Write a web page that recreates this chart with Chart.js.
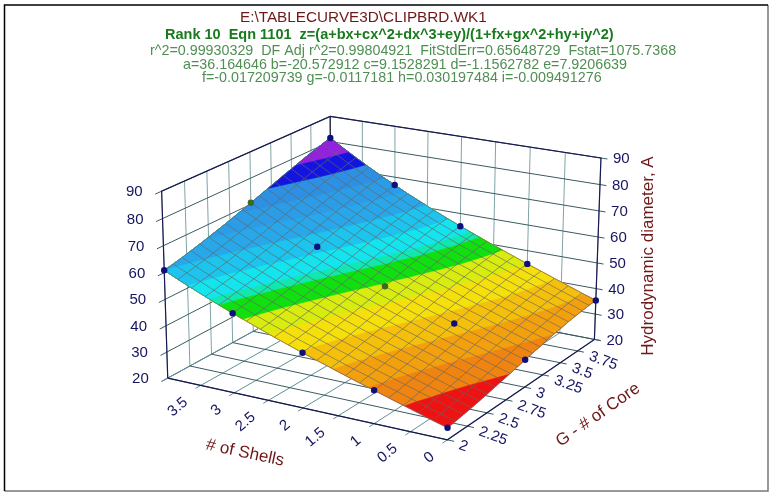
<!DOCTYPE html>
<html><head><meta charset="utf-8">
<style>html,body{margin:0;padding:0;background:#fff}canvas{display:block}</style>
<script src="https://cdn.jsdelivr.net/npm/chart.js@4"></script>
</head><body><canvas id="c" width="776" height="496"></canvas>
<script>
// ---- data ----
const shellValues=[0,0.2,0.4,0.6,0.8,1,1.2,1.4,1.6,1.8,2,2.2,2.4,2.6,2.8,3,3.2,3.4,3.6,3.8,4];
const coreValues=[2,2.1,2.2,2.3,2.4,2.5,2.6,2.7,2.8,2.9,3,3.1,3.2,3.3,3.4,3.5,3.6,3.7,3.8,3.9,4];
const surfaceZ=[
[24.4,25.9,27.5,29.1,30.7,32.3,33.9,35.5,37.2,38.9,40.6,42.4,44.2,46.1,48.0,49.9,52.0,54.1,56.3,58.5,60.9],
[24.8,26.4,27.9,29.5,31.1,32.7,34.4,36.0,37.7,39.4,41.2,42.9,44.8,46.6,48.6,50.6,52.6,54.7,57.0,59.2,61.6],
[25.3,26.9,28.5,30.1,31.7,33.3,34.9,36.6,38.3,40.0,41.8,43.5,45.4,47.3,49.2,51.2,53.3,55.5,57.7,60.0,62.4],
[25.8,27.4,29.0,30.6,32.2,33.9,35.5,37.2,38.9,40.6,42.4,44.2,46.1,48.0,49.9,52.0,54.1,56.2,58.5,60.8,63.3],
[26.4,28.0,29.6,31.2,32.8,34.5,36.2,37.8,39.6,41.3,43.1,44.9,46.8,48.7,50.7,52.8,54.9,57.1,59.3,61.7,64.2],
[27.0,28.6,30.2,31.9,33.5,35.2,36.8,38.5,40.3,42.0,43.8,45.7,47.6,49.5,51.5,53.6,55.7,57.9,60.3,62.7,65.2],
[27.7,29.3,30.9,32.5,34.2,35.9,37.5,39.3,41.0,42.8,44.6,46.5,48.4,50.3,52.4,54.5,56.6,58.9,61.2,63.6,66.2],
[28.3,30.0,31.6,33.2,34.9,36.6,38.3,40.0,41.8,43.6,45.4,47.3,49.2,51.2,53.2,55.4,57.6,59.8,62.2,64.7,67.2],
[29.0,30.6,32.3,33.9,35.6,37.3,39.0,40.8,42.6,44.4,46.2,48.1,50.1,52.1,54.2,56.3,58.5,60.8,63.2,65.7,68.3],
[29.7,31.3,33.0,34.7,36.4,38.1,39.8,41.6,43.3,45.2,47.1,49.0,50.9,53.0,55.1,57.2,59.5,61.8,64.3,66.8,69.4],
[30.4,32.0,33.7,35.4,37.1,38.8,40.6,42.3,44.2,46.0,47.9,49.8,51.8,53.9,56.0,58.2,60.5,62.8,65.3,67.9,70.6],
[31.1,32.7,34.4,36.1,37.8,39.6,41.3,43.1,45.0,46.8,48.7,50.7,52.7,54.8,57.0,59.2,61.5,63.9,66.4,69.0,71.7],
[31.7,33.4,35.1,36.8,38.6,40.3,42.1,43.9,45.8,47.6,49.6,51.6,53.6,55.7,57.9,60.2,62.5,64.9,67.5,70.1,72.9],
[32.4,34.1,35.8,37.5,39.3,41.0,42.8,44.7,46.5,48.4,50.4,52.4,54.5,56.6,58.8,61.1,63.5,66.0,68.5,71.2,74.0],
[33.0,34.7,36.4,38.2,39.9,41.7,43.6,45.4,47.3,49.2,51.2,53.2,55.3,57.5,59.7,62.1,64.5,67.0,69.6,72.3,75.2],
[33.5,35.3,37.0,38.8,40.6,42.4,44.2,46.1,48.0,50.0,52.0,54.0,56.2,58.4,60.6,63.0,65.4,68.0,70.6,73.4,76.3],
[34.1,35.8,37.6,39.4,41.2,43.0,44.9,46.8,48.7,50.7,52.7,54.8,57.0,59.2,61.5,63.9,66.3,68.9,71.6,74.5,77.4],
[34.5,36.3,38.1,39.9,41.7,43.6,45.4,47.4,49.3,51.3,53.4,55.5,57.7,59.9,62.3,64.7,67.2,69.9,72.6,75.5,78.5],
[34.9,36.7,38.5,40.3,42.2,44.1,46.0,47.9,49.9,51.9,54.0,56.2,58.4,60.7,63.0,65.5,68.1,70.7,73.5,76.4,79.5],
[35.2,37.0,38.8,40.7,42.6,44.5,46.4,48.4,50.4,52.4,54.6,56.7,59.0,61.3,63.7,66.2,68.8,71.5,74.4,77.4,80.5],
[35.4,37.2,39.1,41.0,42.9,44.8,46.8,48.8,50.8,52.9,55.0,57.2,59.5,61.9,64.3,66.9,69.5,72.3,75.2,78.2,81.4]];
const pointShells=[0,1,2,3,4,0,1,2,3,4,0,1,2,3,4];
const pointCores=[2,2,2,2,2,3,3,3,3,3,4,4,4,4,4];
const pointZ=[24.4,32.3,40.6,49.9,60.9,30.4,38.8,47.9,58.2,70.6,35.4,44.8,55.0,66.9,81.4];
const bandLevels=[0,29,33,37,41,45,48.5,52,53.5,57,61,65,69,73,77];
const bandColors=['#ee1212','#ef8410','#f3a00e','#f5c00c','#f5e00c','#d8ec10','#10e010','#10e8b0','#14e4ee','#1cc4ee','#28a8ea','#2c9ce6','#2e90e2','#1414e0','#9420e0'];
const zTicks=[20,30,40,50,60,70,80,90];
const shellTicks=[0,0.5,1,1.5,2,2.5,3,3.5];
const shellGrid=[0,0.5,1,1.5,2,2.5,3,3.5,4];
const coreTicks=[2,2.25,2.5,2.75,3,3.25,3.5,3.75];
const coreGrid=[2,2.25,2.5,2.75,3,3.25,3.5,3.75,4];
const headerLines=[
 ['E:\\TABLECURVE3D\\CLIPBRD.WK1',240,18,'15.3px','#6e1818'],
 ['Rank 10  Eqn 1101  z=(a+bx+cx^2+dx^3+ey)/(1+fx+gx^2+hy+iy^2)',165,35,'bold 14.5px','#1a7a1e'],
 ['r^2=0.99930329  DF Adj r^2=0.99804921  FitStdErr=0.65648729  Fstat=1075.7368',150,51,'14.3px','#4f8f52'],
 ['a=36.164646 b=-20.572912 c=9.1528291 d=-1.1562782 e=7.9206639',183,65,'14.3px','#4f8f52'],
 ['f=-0.017209739 g=-0.0117181 h=0.030197484 i=-0.009491276',202,78,'14.3px','#4f8f52']];

// ---- projection of the 3D box onto the page scales ----
const origin=[448,443];
const boxCorners=[[1,0,0,166,380],[0,1,0,597,340],[1,1,0,330,290],[1,0,1,159,190],[0,1,1,603,157],[1,1,1,330,114]];
function solveProjection(){
  const rows=[],rhs=[];
  for(const [u,v,w,X,Y] of boxCorners){
    rows.push([u,v,w,0,0,0,-X*u,-X*v,-X*w]);rhs.push(X-origin[0]);
    rows.push([0,0,0,u,v,w,-Y*u,-Y*v,-Y*w]);rhs.push(Y-origin[1]);
  }
  const n=9,M=[];
  for(let i=0;i<n;i++){M.push(new Array(n+1).fill(0));
    for(let j=0;j<n;j++)for(let k=0;k<rows.length;k++)M[i][j]+=rows[k][i]*rows[k][j];
    for(let k=0;k<rows.length;k++)M[i][n]+=rows[k][i]*rhs[k];}
  for(let i=0;i<n;i++){let p=i;for(let r=i+1;r<n;r++)if(Math.abs(M[r][i])>Math.abs(M[p][i]))p=r;
    [M[i],M[p]]=[M[p],M[i]];
    for(let r=0;r<n;r++){if(r===i)continue;const f=M[r][i]/M[i][i];for(let c=i;c<=n;c++)M[r][c]-=f*M[i][c];}}
  return M.map((r,i)=>r[n]/r[i]);
}
const P=solveProjection();
function project(s,c,z){
  const u=s/4,v=(c-2)/2,w=(z-20)/70,d=P[6]*u+P[7]*v+P[8]*w+1;
  return {x:(P[0]*u+P[1]*v+P[2]*w+origin[0])/d,y:(P[3]*u+P[4]*v+P[5]*w+origin[1])/d};
}

// ---- build the datasets in painting order ----
const paint=[];
function addLine(pts,color,width){paint.push({type:'line',data:pts,borderColor:color,borderWidth:width,pointRadius:0,tension:0,fill:false});}
const cGridTeal='#7fa3a6',cGridDark='#3a5a62',cEdge='#1a1a50';
for(const c of coreGrid)addLine([project(4,c,20),project(4,c,90)],cGridTeal,1);
for(const s of shellGrid)addLine([project(s,4,20),project(s,4,90)],cGridTeal,1);
for(const z of zTicks){addLine([project(4,2-0.07,z),project(4,4,z)],cGridDark,1);addLine([project(-0.09,4,z),project(4,4,z)],cGridDark,1);}
for(const s of shellGrid)addLine([project(s,2-0.06,20),project(s,4,20)],'#5f8f98',1);
for(const c of coreGrid)addLine([project(-0.09,c,20),project(4,c,20)],cGridDark,1);
addLine([project(4,2,20),project(4,2,90),project(4,4,90),project(0,4,90),project(0,4,20)],cEdge,1.2);
addLine([project(4,2,20),project(0,2,20),project(0,4,20)],cEdge,1.2);
addLine([project(4,4,20),project(4,4,90)],'#222240',1.2);

function bandPolygon(L){
  const nC=coreValues.length,nS=shellValues.length,top=nS-1,pts=[];
  const cross=i=>{const r=surfaceZ[i];if(r[0]>=L)return{j:0,f:0,s:0,z:r[0]};if(r[top]<L)return null;
    for(let j=0;j<top;j++)if(r[j]<L&&r[j+1]>=L){const f=(L-r[j])/(r[j+1]-r[j]);return{j,f,s:shellValues[j]+f*(shellValues[j+1]-shellValues[j]),z:L};}};
  let first=0;while(first<nC&&!cross(first))first++;
  if(first>=nC)return pts;
  if(first===0){const k=cross(0);for(let j=top;j>k.j;j--)pts.push(project(shellValues[j],coreValues[0],surfaceZ[0][j]));}
  else{const a=surfaceZ[first-1][top],b=surfaceZ[first][top],t=(L-a)/(b-a);pts.push(project(4,coreValues[first-1]+t*(coreValues[first]-coreValues[first-1]),L));}
  for(let i=first;i<nC;i++){const k=cross(i);pts.push(project(k.s,coreValues[i],k.z));
    if(i<nC-1&&surfaceZ[i][0]<L&&surfaceZ[i+1][0]>=L){const a=surfaceZ[i][0],b=surfaceZ[i+1][0],t=(L-a)/(b-a);pts.push(project(0,coreValues[i]+t*(coreValues[i+1]-coreValues[i]),L));}}
  const k=cross(nC-1);for(let j=k.j+1;j<=top;j++)pts.push(project(shellValues[j],4,surfaceZ[nC-1][j]));
  for(let i=nC-2;i>=first;i--)pts.push(project(4,coreValues[i],surfaceZ[i][top]));
  return pts;
}
bandLevels.forEach((L,i)=>{const pts=bandPolygon(L);if(pts.length)paint.push({type:'line',data:pts,isBand:true,backgroundColor:bandColors[i],borderColor:bandColors[i],borderWidth:0.5,pointRadius:0,tension:0,fill:false});});
const meshColor='rgba(100,100,100,0.8)';
coreValues.forEach((c,i)=>addLine(shellValues.map((s,j)=>project(s,c,surfaceZ[i][j])),meshColor,0.8));
shellValues.forEach((s,j)=>addLine(coreValues.map((c,i)=>project(s,c,surfaceZ[i][j])),meshColor,0.8));
paint.push({type:'scatter',showLine:false,data:pointZ.map((z,i)=>project(pointShells[i],pointCores[i],z)),
  pointRadius:3.2,borderWidth:0,
  pointBackgroundColor:pointZ.map((z,i)=>(pointShells[i]===4&&pointCores[i]===3)||(pointShells[i]===2&&pointCores[i]===3)?'#3d6a22':'#10107a')});
paint.forEach((d,i)=>{d.order=paint.length-i;});

const textFont='"Liberation Sans",Arial,sans-serif';
const decor={id:'decor',
  beforeDatasetDraw(chart,args){
    const ds=chart.data.datasets[args.index];if(!ds.isBand)return;
    const pts=args.meta.data,ctx=chart.ctx;ctx.save();ctx.beginPath();
    pts.forEach((p,i)=>i?ctx.lineTo(p.x,p.y):ctx.moveTo(p.x,p.y));ctx.closePath();
    ctx.fillStyle=ds.backgroundColor;ctx.fill();ctx.restore();
  },
  afterDraw(chart){
    const ctx=chart.ctx,X=chart.scales.x,Y=chart.scales.y;
    const px=p=>({x:X.getPixelForValue(p.x),y:Y.getPixelForValue(p.y)});
    const text=(t,x,y,font,color,rot,align)=>{ctx.save();ctx.translate(x,y);ctx.rotate((rot||0)*Math.PI/180);ctx.font=font+' '+textFont;ctx.fillStyle=color;ctx.textAlign=align||'left';ctx.textBaseline='middle';ctx.fillText(t,0,0);ctx.restore();};
    ctx.save();ctx.lineWidth=1.5;
    ctx.strokeStyle='#777';ctx.beginPath();ctx.moveTo(768,5);ctx.lineTo(768,491);ctx.lineTo(4.5,491);ctx.stroke();
    ctx.strokeStyle='#000';ctx.beginPath();ctx.moveTo(4.5,491);ctx.lineTo(4.5,5);ctx.lineTo(768,5);ctx.stroke();
    ctx.restore();
    for(const [t,x,y,f,col] of headerLines)text(t,x,y,f,col);
    const tickCol='#151560',tf='15px';
    for(const z of zTicks){let p=px(project(4,2,z));text(String(z),p.x-19,p.y+1,tf,tickCol,0,'right');
      p=px(project(0,4,z));text(String(z),p.x+12,p.y+1,tf,tickCol);}
    for(const s of shellTicks){const p=px(project(s,2,20));text(String(s),p.x-15,p.y+15,tf,tickCol,-40,'right');}
    for(const c of coreTicks){const p=px(project(0,c,20));text(String(c),p.x+12,p.y+5,tf,tickCol,20);}
    text('# of Shells',245,453,'17px','#6e1818',12,'center');
    text('G - # of Core',598,415,'17px','#6e1818',-35,'center');
    text('Hydrodynamic diameter, A',648,256,'17px','#6e1818',-90,'center');
  }};
Chart.register(decor);
new Chart(document.getElementById('c'),{type:'scatter',data:{datasets:paint},options:{
  responsive:false,animation:false,devicePixelRatio:1,layout:{padding:0},
  plugins:{legend:{display:false},tooltip:{enabled:false},title:{display:false}},
  scales:{x:{type:'linear',min:0,max:776,display:false},y:{type:'linear',min:0,max:496,reverse:true,display:false}}
}});
</script></body></html>
